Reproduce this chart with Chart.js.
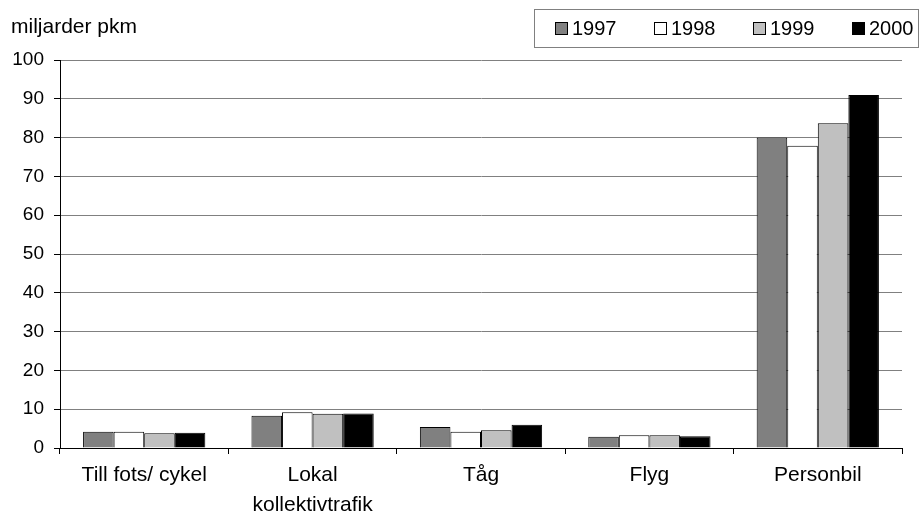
<!DOCTYPE html>
<html>
<head>
<meta charset="utf-8">
<script src="https://cdn.jsdelivr.net/npm/chart.js@4"></script>
<style>
  html, body { margin: 0; padding: 0; background: #fff; }
  #wrap { width: 923px; height: 511px; }
</style>
</head>
<body>
<div id="wrap"><canvas id="chart" width="923" height="511"></canvas></div>
<script>
const categories = ["Till fots/ cykel", ["Lokal", "kollektivtrafik"], "Tåg", "Flyg", "Personbil"];
const years = ["1997", "1998", "1999", "2000"];
const v1997 = [4.2, 8.3, 5.4, 2.9, 80.0];
const v1998 = [4.2, 9.2, 4.2, 3.3, 77.9];
const v1999 = [3.8, 8.8, 4.6, 3.3, 83.7];
const v2000 = [3.9, 8.9, 6.0, 3.0, 91.0];
const yTicks = [0, 10, 20, 30, 40, 50, 60, 70, 80, 90, 100];
const colors = ["#808080", "#ffffff", "#c0c0c0", "#000000"];
const unitLabel = "miljarder pkm";

const font = "Liberation Sans, Arial, sans-serif";
Chart.defaults.font.family = font;
Chart.defaults.font.size = 19;
Chart.defaults.color = "#000";

// box legend + unit text, drawn on the canvas
const extras = {
  id: "extras",
  afterDraw(chart) {
    const ctx = chart.ctx;
    ctx.save();
    ctx.fillStyle = "#000";
    ctx.font = "21px " + font;
    ctx.textBaseline = "middle";
    ctx.textAlign = "left";
    ctx.fillText(unitLabel, 11, 27);

    ctx.strokeStyle = "#808080";
    ctx.lineWidth = 1;
    ctx.strokeRect(534.5, 9.5, 384, 38);
    ctx.font = "20px " + font;
    chart.data.datasets.forEach((ds, i) => {
      const x = 555 + i * 99;
      ctx.fillStyle = ds.backgroundColor;
      ctx.fillRect(x, 22, 13, 13);
      ctx.strokeStyle = "#000";
      ctx.strokeRect(x + 0.5, 22.5, 12, 12);
      ctx.fillStyle = "#000";
      ctx.fillText(ds.label, x + 17, 29);
    });
    ctx.restore();
  }
};

new Chart(document.getElementById("chart"), {
  type: "bar",
  data: {
    labels: categories,
    datasets: [v1997, v1998, v1999, v2000].map((d, i) => ({
      label: years[i],
      data: d,
      backgroundColor: colors[i],
      borderColor: "#000",
      borderWidth: 1,
      categoryPercentage: 0.726,
      barPercentage: 1
    }))
  },
  options: {
    responsive: false,
    animation: false,
    layout: { padding: { top: 60, right: 21, left: 0, bottom: 0 } },
    plugins: { legend: { display: false }, tooltip: { enabled: false } },
    scales: {
      x: {
        offset: true,
        grid: { offset: true, drawOnChartArea: false, drawTicks: true, tickLength: 6, color: "#000" },
        border: { color: "#000" },
        ticks: { padding: 7, maxRotation: 0, autoSkip: false, font: { size: 21, lineHeight: 1.4 } },
        afterFit(s) { s.height = 63; }
      },
      y: {
        min: 0,
        max: 100,
        afterBuildTicks(s) { s.ticks = yTicks.map(v => ({ value: v })); },
        grid: { color: "#808080", tickLength: 6, tickColor: "#000" },
        border: { color: "#000" },
        ticks: { padding: 10 },
        afterFit(s) { s.width = 60; }
      }
    }
  },
  plugins: [extras]
});
</script>
</body>
</html>
